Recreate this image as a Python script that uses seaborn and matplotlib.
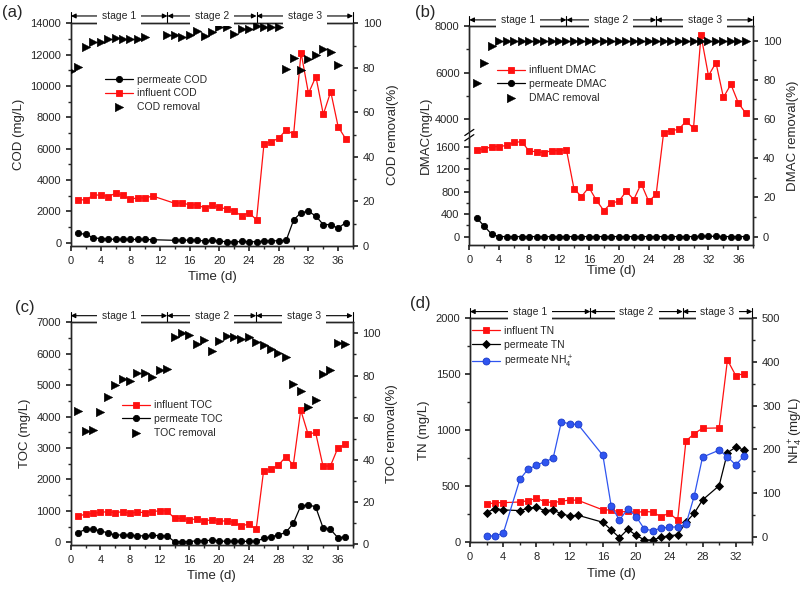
import numpy as np
import matplotlib
matplotlib.use("Agg")
import matplotlib.pyplot as plt
import seaborn as sns
from matplotlib.ticker import MultipleLocator, FixedLocator, FuncFormatter

# ---- (a) COD ----
cod_days = [1, 2, 3, 4, 5, 6, 7, 8, 9, 10, 11,
            14, 15, 16, 17, 18, 19, 20, 21, 22, 23, 24, 25,
            26, 27, 28, 29, 30, 31, 32, 33, 34, 35, 36, 37]
cod_influent = [2750, 2720, 3040, 3040, 2940, 3150, 3020, 2770, 2870, 2850, 2980,
                2510, 2550, 2400, 2430, 2210, 2380, 2255, 2150, 2000, 1720, 1915, 1450,
                6280, 6450, 6660, 7210, 6910, 12130, 9530, 10600, 8190, 9640, 7400, 6640]
cod_permeate = [600, 530, 320, 255, 235, 210, 210, 210, 210, 210, 190,
                150, 150, 170, 150, 110, 150, 100, 60, 40, 80, 60, 60,
                100, 120, 120, 150, 1450, 1920, 2000, 1700, 1150, 1150, 920, 1280]
cod_rem_days = [0, 1, 2, 3, 4, 5, 6, 7, 8, 9, 10,
                13, 14, 15, 16, 17, 18, 19, 20, 21, 22, 23, 24, 25, 26, 27, 28,
                29, 30, 31, 32, 33, 34, 35, 36]
cod_removal = [78.7, 80.5, 89.2, 91.6, 91.6, 93.1, 93.3, 92.8, 92.8, 92.8, 94.0,
               94.8, 94.8, 94.0, 94.8, 96.7, 94.3, 96.3, 98.2, 98.5, 95.4, 97.3, 97.5,
               98.8, 98.5, 98.2, 98.2,
               79.3, 84.3, 79.0, 83.8, 85.9, 88.3, 87.0, 81.1]

# ---- (b) DMAC ----
dmac_days = list(range(1, 38))
dmac_influent = [1547, 1558, 1600, 1600, 1624, 1677, 1689, 1523, 1511, 1493, 1529, 1529, 1541,
                 853, 711, 877, 646, 462, 598, 628, 806, 658, 942, 628, 753,
                 3429, 3514, 3571, 3914, 3629, 7600, 5871, 6429, 4943, 5500, 4700, 4257]
dmac_permeate = [332, 184, 41, 0, 0, 0, 0, 0, 0, 0, 0, 0, 0,
                 0, 0, 0, 0, 0, 0, 0, 0, 0, 0, 0, 0,
                 0, 0, 0, 0, 0, 5, 5, 5, 0, 0, 0, 0]
dmac_removal = [78.6, 88.4, 97.4, 100, 100, 100, 100, 100, 100, 100, 100, 100, 100,
                100, 100, 100, 100, 100, 100, 100, 100, 100, 100, 100, 100,
                100, 100, 100, 100, 100, 100, 100, 100, 100, 100, 100, 100]

# ---- (c) TOC ----
toc_days = list(range(1, 38))
toc_influent = [838, 891, 923, 954, 976, 944, 976, 923, 965, 944, 976, 1007, 997,
                764, 764, 711, 753, 679, 721, 679, 679, 636, 520, 583, 414,
                2280, 2322, 2460, 2725, 2460, 4210, 3436, 3500, 2428, 2428, 3000, 3118]
toc_permeate = [308, 414, 414, 371, 297, 233, 233, 223, 212, 201, 223, 212, 201,
                21, 21, 21, 53, 42, 74, 42, 32, 32, 32, 32, 32,
                127, 180, 233, 318, 604, 1156, 1188, 1135, 467, 414, 148, 170]
toc_removal = [63.3, 53.6, 54.2, 62.7, 70.0, 75.7, 78.2, 77.4, 81.0, 81.0, 79.5, 82.6, 83.2,
               98.4, 100, 99.2, 94.8, 96.8, 91.8, 96.4, 98.7, 98.4, 97.2, 98.4, 96.1,
               94.5, 92.4, 90.5, 88.6, 76.0, 72.7, 65.2, 68.4, 80.7, 82.6, 95.6, 94.8]

# ---- (d) TN / NH4+ ----
tn_days = [2, 3, 4, 6, 7, 8, 9, 10, 11, 12, 13, 16, 17, 18, 19, 20,
           21, 22, 23, 24, 25, 26, 27, 28, 30, 31, 32, 33]
tn_influent = [334, 349, 349, 355, 367, 388, 358, 349, 361, 373, 370, 284, 284, 266, 270, 263,
               269, 266, 221, 257, 191, 901, 967, 1015, 1018, 1627, 1487, 1504]
tn_permeate = [260, 296, 284, 278, 299, 307, 278, 284, 248, 230, 236, 173, 104, 36, 110, 57,
               15, 15, 39, 54, 60, 173, 254, 373, 501, 797, 845, 821]
nh4_permeate = [1.5, 1.5, 7.6, 131, 155, 163, 172, 179, 263, 258, 257, 186, 70, 38, 64, 46,
                17, 14, 19, 22, 22, 28, 93, 182, 198, 183, 164, 185]

stage_bounds_abc = [0, 13, 25, 38]
stage_bounds_d = [0, 14.5, 25.6, 34]

sns.set_theme(style="ticks")
plt.rcParams["font.family"] = ["Liberation Sans", "DejaVu Sans"]
plt.rcParams["mathtext.fontset"] = "custom"
plt.rcParams["mathtext.rm"] = "Liberation Sans"
plt.rcParams["mathtext.it"] = "Liberation Sans:italic"
plt.rcParams["xtick.labelsize"] = 8
plt.rcParams["ytick.labelsize"] = 8
plt.rcParams["axes.labelsize"] = 9.5
plt.rcParams["axes.linewidth"] = 1.0
plt.rcParams["xtick.major.size"] = 3.5
plt.rcParams["ytick.major.size"] = 3.5
plt.rcParams["xtick.minor.size"] = 2
plt.rcParams["ytick.minor.size"] = 2

RED = "#FF1010"
BLUE = "#2F55F0"

fig = plt.figure(figsize=(8.05, 5.89), dpi=100)
ax_a = fig.add_axes([0.0882, 0.5823, 0.3503, 0.3781])
ax_b = fig.add_axes([0.5830, 0.5840, 0.3528, 0.3718])
ax_c = fig.add_axes([0.0878, 0.0747, 0.3503, 0.3780])
ax_d = fig.add_axes([0.5839, 0.0793, 0.3507, 0.3803])


def line(ax, x, y, color, marker, ms, label, mec=None):
    sns.lineplot(x=x, y=y, ax=ax, color=color, marker=marker, markersize=ms,
                 markeredgecolor=mec or color, markeredgewidth=0.6, linewidth=0.9,
                 label=label, zorder=3)


def removal(ax, x, y, label):
    sns.scatterplot(x=x, y=y, ax=ax, color="black", marker=">", s=38,
                    edgecolor="black", linewidth=0.3, label=label, zorder=3)


def draw_stages(ax, bounds, y=1.033):
    trans = ax.get_xaxis_transform()
    for i in range(3):
        x0, x1 = bounds[i], bounds[i + 1]
        ax.annotate("", xy=(x0, y), xytext=(x1, y), xycoords=trans, textcoords=trans,
                    arrowprops=dict(arrowstyle="<|-|>", color="black", lw=0.8,
                                    shrinkA=0, shrinkB=0, mutation_scale=7),
                    annotation_clip=False)
        ax.text((x0 + x1) / 2, y, f"stage {i + 1}", transform=trans, ha="center",
                va="center", fontsize=7.5,
                bbox=dict(fc="white", ec="none", pad=3.5), zorder=5)
    for b in bounds:
        ax.plot([b, b], [1.0, y + 0.018], transform=trans, color="black",
                lw=0.8, clip_on=False)


def finish(ax, tw, order, loc_xy, xmax):
    h1, l1 = ax.get_legend_handles_labels()
    h2, l2 = tw.get_legend_handles_labels()
    if ax.get_legend():
        ax.get_legend().remove()
    if tw.get_legend():
        tw.get_legend().remove()
    hd = dict(zip(l1 + l2, h1 + h2))
    tw.legend([hd[k] for k in order], order, loc="upper left", bbox_to_anchor=loc_xy,
              frameon=False, fontsize=7.5, handlelength=2.7, handletextpad=0.4,
              labelspacing=0.35, borderaxespad=0, borderpad=0)
    ax.set_xlim(0, xmax)
    ax.xaxis.set_major_locator(MultipleLocator(4))
    ax.xaxis.set_minor_locator(MultipleLocator(2))
    ax.set_xlabel("Time (d)")
    tw.tick_params(axis="y", which="both", right=True)
    ax.tick_params(axis="both", which="both", top=False)
    tw.tick_params(axis="x", which="both", top=False)


# ---------- (a) ----------
tw_a = ax_a.twinx()
line(ax_a, cod_days, cod_permeate, "black", "o", 4.5, "permeate COD")
line(ax_a, cod_days, cod_influent, RED, "s", 4.5, "influent COD")
removal(tw_a, cod_rem_days, cod_removal, "COD removal")
ax_a.set_ylim(-213, 14000)
ax_a.yaxis.set_major_locator(MultipleLocator(2000))
ax_a.yaxis.set_minor_locator(MultipleLocator(1000))
tw_a.set_ylim(0, 100)
tw_a.yaxis.set_major_locator(MultipleLocator(20))
tw_a.yaxis.set_minor_locator(MultipleLocator(10))
ax_a.set_ylabel("COD (mg/L)")
tw_a.set_ylabel("COD removal(%)")
finish(ax_a, tw_a, ["permeate COD", "influent COD", "COD removal"], (0.12, 0.77), 38)
draw_stages(tw_a, stage_bounds_abc)

# ---------- (b) ----------
tw_b = ax_b.twinx()
bp_v = [-150, 1780, 3330, 8000]
bp_p = [0, 325.4, 330.1, 657]


def fwd(v):
    return np.interp(v, bp_v, bp_p)


def inv(p):
    return np.interp(p, bp_p, bp_v)


ax_b.set_yscale("function", functions=(fwd, inv))
line(ax_b, dmac_days, dmac_influent, RED, "s", 4.5, "influent DMAC")
line(ax_b, dmac_days, dmac_permeate, "black", "o", 4.5, "permeate DMAC")
removal(tw_b, dmac_days, dmac_removal, "DMAC removal")
ax_b.set_ylim(-150, 8000)
ax_b.yaxis.set_major_locator(FixedLocator([0, 400, 800, 1200, 1600, 4000, 6000, 8000]))
ax_b.yaxis.set_minor_locator(FixedLocator([200, 600, 1000, 1400, 5000, 7000]))
ax_b.yaxis.set_major_formatter(FuncFormatter(lambda v, _: f"{v:.0f}"))
ax_b.yaxis.set_minor_formatter(FuncFormatter(lambda v, _: ""))
tw_b.set_ylim(-4.3, 107.5)
tw_b.yaxis.set_major_locator(MultipleLocator(20))
tw_b.yaxis.set_minor_locator(MultipleLocator(10))
ax_b.set_ylabel("DMAC(mg/L)", labelpad=2)
tw_b.set_ylabel("DMAC removal(%)")
finish(ax_b, tw_b, ["influent DMAC", "permeate DMAC", "DMAC removal"], (0.098, 0.82), 38)
ax_b.xaxis.labelpad = 0
draw_stages(tw_b, stage_bounds_abc, y=1.028)
# axis break marks on the left spine
yb = 0.502
ax_b.add_patch(plt.Rectangle((-0.02, yb - 0.012), 0.04, 0.024, transform=ax_b.transAxes,
                             fc="white", ec="none", clip_on=False, zorder=10))
for dy in (-0.012, 0.012):
    ax_b.plot([-0.016, 0.016], [yb + dy - 0.014, yb + dy + 0.014], transform=ax_b.transAxes,
              color="black", lw=0.9, clip_on=False, zorder=11)

# ---------- (c) ----------
tw_c = ax_c.twinx()
line(ax_c, toc_days, toc_influent, RED, "s", 4.5, "influent TOC")
line(ax_c, toc_days, toc_permeate, "black", "o", 4.5, "permeate TOC")
removal(tw_c, toc_days, toc_removal, "TOC removal")
ax_c.set_ylim(-85, 7000)
ax_c.yaxis.set_major_locator(MultipleLocator(1000))
ax_c.yaxis.set_minor_locator(MultipleLocator(500))
tw_c.set_ylim(-0.3, 105.2)
tw_c.yaxis.set_major_locator(MultipleLocator(20))
tw_c.yaxis.set_minor_locator(MultipleLocator(10))
ax_c.set_ylabel("TOC (mg/L)")
tw_c.set_ylabel("TOC removal(%)")
finish(ax_c, tw_c, ["influent TOC", "permeate TOC", "TOC removal"], (0.182, 0.65), 38)
draw_stages(tw_c, stage_bounds_abc, y=1.03)

# ---------- (d) ----------
tw_d = ax_d.twinx()
line(ax_d, tn_days, tn_influent, RED, "s", 4.5, "influent TN")
line(ax_d, tn_days, tn_permeate, "black", "D", 4.5, "permeate TN")
line(tw_d, tn_days, nh4_permeate, BLUE, "o", 5, "permeate NH$_4^+$", mec="#1A3AC8")
ax_d.set_ylim(-6, 2000)
ax_d.yaxis.set_major_locator(MultipleLocator(500))
ax_d.yaxis.set_minor_locator(MultipleLocator(250))
tw_d.set_ylim(-13, 500)
tw_d.yaxis.set_major_locator(MultipleLocator(100))
tw_d.yaxis.set_minor_locator(MultipleLocator(50))
ax_d.set_ylabel("TN (mg/L)")
tw_d.set_ylabel("NH$_4^+$(mg/L)")
finish(ax_d, tw_d, ["influent TN", "permeate TN", "permeate NH$_4^+$"], (0.007, 0.965), 34)
draw_stages(tw_d, stage_bounds_d, y=1.03)

fig.text(0.003, 0.978, "(a)", fontsize=12, va="center")
fig.text(0.516, 0.978, "(b)", fontsize=12, va="center")
fig.text(0.019, 0.478, "(c)", fontsize=12, va="center")
fig.text(0.509, 0.484, "(d)", fontsize=12, va="center")

fig.savefig("out.png", dpi=100)
